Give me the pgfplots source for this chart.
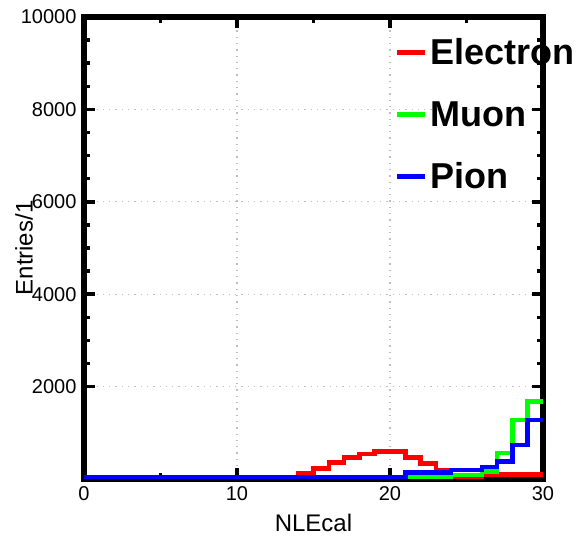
\documentclass[border=0pt]{standalone}
\usepackage{fontspec}
\setmainfont{Liberation Sans}
\usepackage{pgfplots}
\pgfplotsset{compat=1.18}
\begin{document}
\begin{tikzpicture}
\useasboundingbox (-84pt,-64pt) rectangle (498pt,479pt);
\begin{axis}[
  at={(0pt,0pt)}, anchor=south west,
  scale only axis, width=459pt, height=462pt,
  xmin=0, xmax=30, ymin=0, ymax=10000,
  xtick={0,10,20,30}, ytick={2000,4000,6000,8000,10000},
  minor x tick num=1, minor y tick num=3,
  tick align=inside,
  major tick length=11pt, minor tick length=6pt,
  every tick/.style={black, line width=3.5pt},
  axis line style={line width=5.5pt},
  grid=major,
  major grid style={gray!50, line width=1.3pt, dash pattern=on 1.3pt off 5pt},
  scaled y ticks=false,
  /pgf/number format/assume math mode=true,
  /pgf/number format/1000 sep={},
  ticklabel style={font=\fontsize{20}{20}\selectfont},
  xticklabel style={yshift=-4pt},
  yticklabel style={xshift=-4pt},
  xlabel={NLEcal}, ylabel={Entries/1},
  label style={font=\fontsize{24}{24}\selectfont},
  xlabel style={at={(axis description cs:0.5,0)}, anchor=center, yshift=-44pt},
  ylabel style={at={(axis description cs:0,0.5)}, anchor=center, yshift=60pt},
  const plot,
  legend image code/.code={\draw[#1] (0pt,0pt) -- (28pt,0pt);},
  legend cell align=left,
  legend style={draw=none, fill=none, inner sep=0pt,
    at={(axis description cs:0.677,0.953)}, anchor=north west,
    font=\bfseries\fontsize{36}{36}\selectfont,
    row sep=35pt, column sep=0pt,
    nodes={inner sep=0pt, inner xsep=3pt}},
]
\addplot[red, line width=4.5pt] coordinates {
(0,0) (1,0) (2,0) (3,0) (4,0) (5,0) (6,0) (7,0) (8,0) (9,0)
(10,0) (11,0) (12,0) (13,0) (14,130) (15,230) (16,360) (17,470) (18,540) (19,590)
(20,590) (21,470) (22,340) (23,195) (24,15) (25,15) (26,100) (27,100) (28,100) (29,100)
(30,100)};
\addlegendentry{Electron}
\addplot[green, line width=4.5pt] coordinates {
(0,0) (1,0) (2,0) (3,0) (4,0) (5,0) (6,0) (7,0) (8,0) (9,0)
(10,0) (11,0) (12,0) (13,0) (14,0) (15,0) (16,0) (17,0) (18,0) (19,0)
(20,0) (21,30) (22,30) (23,30) (24,85) (25,85) (26,160) (27,560) (28,1280) (29,1680)
(30,1680)};
\addlegendentry{Muon}
\addplot[blue, line width=4.5pt] coordinates {
(0,45) (1,45) (2,45) (3,45) (4,45) (5,45) (6,45) (7,45) (8,45) (9,45)
(10,45) (11,45) (12,45) (13,45) (14,45) (15,45) (16,45) (17,45) (18,45) (19,45)
(20,45) (21,140) (22,140) (23,140) (24,195) (25,195) (26,260) (27,375) (28,740) (29,1280)
(30,1280)};
\addlegendentry{Pion}
\end{axis}
\end{tikzpicture}
\end{document}
